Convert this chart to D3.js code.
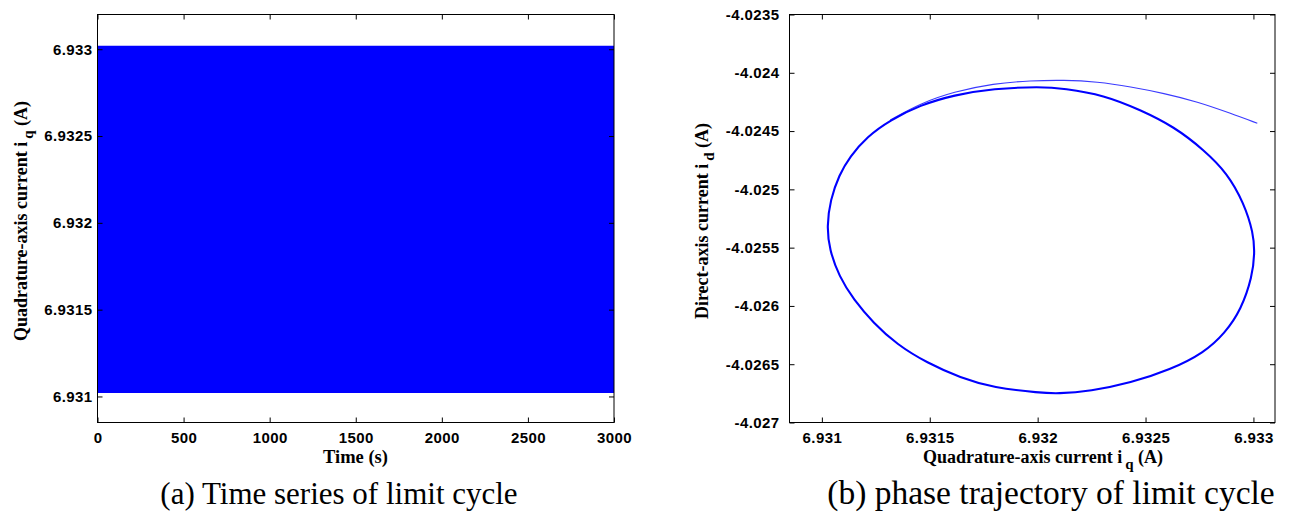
<!DOCTYPE html>
<html>
<head>
<meta charset="utf-8">
<script src="https://cdn.jsdelivr.net/npm/d3@7"></script>
<style>
  html, body { margin: 0; padding: 0; background: #fff; }
  svg { display: block; }
</style>
</head>
<body>
<svg id="chart" width="1290" height="514"></svg>
<script>
// ---------- data ----------
// (a) time series: fast oscillation, shown by its envelope (min / max) over time
const timeSpan = [0, 3000];
const iqUpper = [6.93302, 6.93302];
const iqLower = [6.93102, 6.93102];

// (b) phase trajectory: transient branch (iq, id)
const transIq = [6.933018, 6.932895, 6.932740, 6.932585, 6.932431, 6.932276, 6.932121, 6.931967, 6.931796, 6.931611, 6.931456, 6.931317];
const transId = [-4.024433, -4.024348, -4.024248, -4.024176, -4.024120, -4.024077, -4.024062, -4.024068, -4.024091, -4.024163, -4.024262, -4.024405];

// limit cycle loop (iq, id)
const cycleIq = [6.931023, 6.931039, 6.931080, 6.931130, 6.931209, 6.931317, 6.931456, 6.931611, 6.931796, 6.932013,
                 6.932121, 6.932307, 6.932477, 6.932632, 6.932771, 6.932879, 6.932956, 6.933000, 6.933006, 6.932995,
                 6.932943, 6.932869, 6.932771, 6.932616, 6.932431, 6.932245, 6.932090, 6.932013, 6.931796, 6.931642,
                 6.931487, 6.931348, 6.931239, 6.931147, 6.931080, 6.931035];
const cycleId = [-4.025318, -4.025090, -4.024876, -4.024719, -4.024548, -4.024405, -4.024277, -4.024191, -4.024134, -4.024120,
                 -4.024134, -4.024191, -4.024319, -4.024462, -4.024662, -4.024861, -4.025118, -4.025375, -4.025546, -4.025746,
                 -4.026032, -4.026231, -4.026402, -4.026546, -4.026660, -4.026731, -4.026753, -4.026745, -4.026702, -4.026616,
                 -4.026488, -4.026331, -4.026146, -4.025946, -4.025747, -4.025518];

// tick labels
const aXTicks = [0, 500, 1000, 1500, 2000, 2500, 3000];
const aYTicks = [6.931, 6.9315, 6.932, 6.9325, 6.933];
const bXTicks = [6.931, 6.9315, 6.932, 6.9325, 6.933];
const bYTicks = [-4.027, -4.0265, -4.026, -4.0255, -4.025, -4.0245, -4.024, -4.0235];

// ---------- drawing ----------
const svg = d3.select("#chart");
const fmt = v => String(+v.toFixed(5));
const tickFont = "'Liberation Sans', Arial, sans-serif";
const serif = "'Liberation Serif', 'Times New Roman', serif";

function styleAxis(g, padLetter) {
  g.select(".domain").remove();
  g.selectAll(".tick line").attr("stroke", "#000").attr("stroke-width", 1);
  g.selectAll(".tick text")
    .attr("fill", "#000")
    .style("font-family", tickFont)
    .style("font-weight", "bold")
    .style("font-size", "15px")
    .style("letter-spacing", padLetter + "px");
}

function frame(x0, x1, y0, y1) {
  svg.append("rect")
    .attr("x", x0).attr("y", y0)
    .attr("width", x1 - x0).attr("height", y1 - y0)
    .attr("fill", "none").attr("stroke", "#000").attr("stroke-width", 1);
}

function axesFor(x, y, xt, yt, L, R, T, B, yPad) {
  svg.append("g").attr("transform", `translate(0,${B})`)
    .call(d3.axisBottom(x).tickValues(xt).tickFormat(fmt).tickSize(-5).tickSizeOuter(0).tickPadding(10))
    .call(g => styleAxis(g, 0.4));
  svg.append("g").attr("transform", `translate(0,${T})`)
    .call(d3.axisTop(x).tickValues(xt).tickFormat("").tickSize(-5).tickSizeOuter(0))
    .call(g => styleAxis(g, 0));
  svg.append("g").attr("transform", `translate(${L},0)`)
    .call(d3.axisLeft(y).tickValues(yt).tickFormat(fmt).tickSize(-5).tickSizeOuter(0).tickPadding(yPad))
    .call(g => styleAxis(g, 0.4));
  svg.append("g").attr("transform", `translate(${R},0)`)
    .call(d3.axisRight(y).tickValues(yt).tickFormat("").tickSize(-5).tickSizeOuter(0))
    .call(g => styleAxis(g, 0));
}

// ---- panel (a) ----
const aL = 97.5, aR = 614, aT = 14.5, aB = 422.5;
const xa = d3.scaleLinear().domain([0, 3000]).range([aL, aR]);
const ya = d3.scaleLinear().domain([6.93085, 6.9332]).range([aB, aT]);

const bandData = timeSpan.map((t, i) => ({ t, hi: iqUpper[i], lo: iqLower[i] }));
svg.append("path")
  .datum(bandData)
  .attr("fill", "#0000ff")
  .attr("d", d3.area().x(d => xa(d.t)).y0(d => ya(d.lo)).y1(d => ya(d.hi)));

frame(aL, aR, aT, aB);
axesFor(xa, ya, aXTicks, aYTicks, aL, aR, aT, aB, 5);

// ---- panel (b) ----
const bL = 789.5, bR = 1275, bT = 14.5, bB = 422.5;
const xb = d3.scaleLinear().domain([6.93085, 6.9331]).range([bL, bR]);
const yb = d3.scaleLinear().domain([-4.027, -4.0235]).range([bB, bT]);

svg.append("path")
  .datum(transIq.map((v, i) => [v, transId[i]]))
  .attr("fill", "none").attr("stroke", "#3b3bff").attr("stroke-width", 1.1)
  .attr("d", d3.line().x(d => xb(d[0])).y(d => yb(d[1])).curve(d3.curveBasis));

svg.append("path")
  .datum(cycleIq.map((v, i) => [v, cycleId[i]]))
  .attr("fill", "none").attr("stroke", "#0000ff").attr("stroke-width", 2.1)
  .attr("d", d3.line().x(d => xb(d[0])).y(d => yb(d[1])).curve(d3.curveBasisClosed));

frame(bL, bR, bT, bB);
axesFor(xb, yb, bXTicks, bYTicks, bL, bR, bT, bB, 10);

// ---- axis titles ----
function subLabel(g, main, sub, tail) {
  const t = g.append("text")
    .style("font-family", serif).style("font-weight", "bold").style("font-size", "18px")
    .attr("fill", "#000").attr("text-anchor", "middle");
  t.append("tspan").text(main);
  t.append("tspan").attr("dx", 3).attr("dy", 5.5).style("font-size", "15px").text(sub);
  t.append("tspan").attr("dy", -5.5).text(tail);
  return t;
}

// (a) x title
svg.append("text")
  .attr("x", 355.5).attr("y", 463)
  .attr("text-anchor", "middle")
  .style("font-family", serif).style("font-weight", "bold").style("font-size", "18.5px")
  .text("Time (s)");

// (a) y title
subLabel(svg.append("g").attr("transform", "translate(27,221) rotate(-90)"),
  "Quadrature-axis current  i", "q", " (A)");

// (b) x title
subLabel(svg.append("g").attr("transform", "translate(1043,463)"),
  "Quadrature-axis current  i", "q", " (A)");

// (b) y title
subLabel(svg.append("g").attr("transform", "translate(708,221) rotate(-90)"),
  "Direct-axis current  i", "d", " (A)");

// ---- captions ----
svg.append("text")
  .attr("x", 339).attr("y", 504).attr("text-anchor", "middle")
  .style("font-family", serif).style("font-size", "31px")
  .text("(a) Time series of limit cycle");
svg.append("text")
  .attr("x", 1051).attr("y", 504).attr("text-anchor", "middle")
  .style("font-family", serif).style("font-size", "33.5px")
  .text("(b) phase trajectory of limit cycle");
</script>
</body>
</html>
